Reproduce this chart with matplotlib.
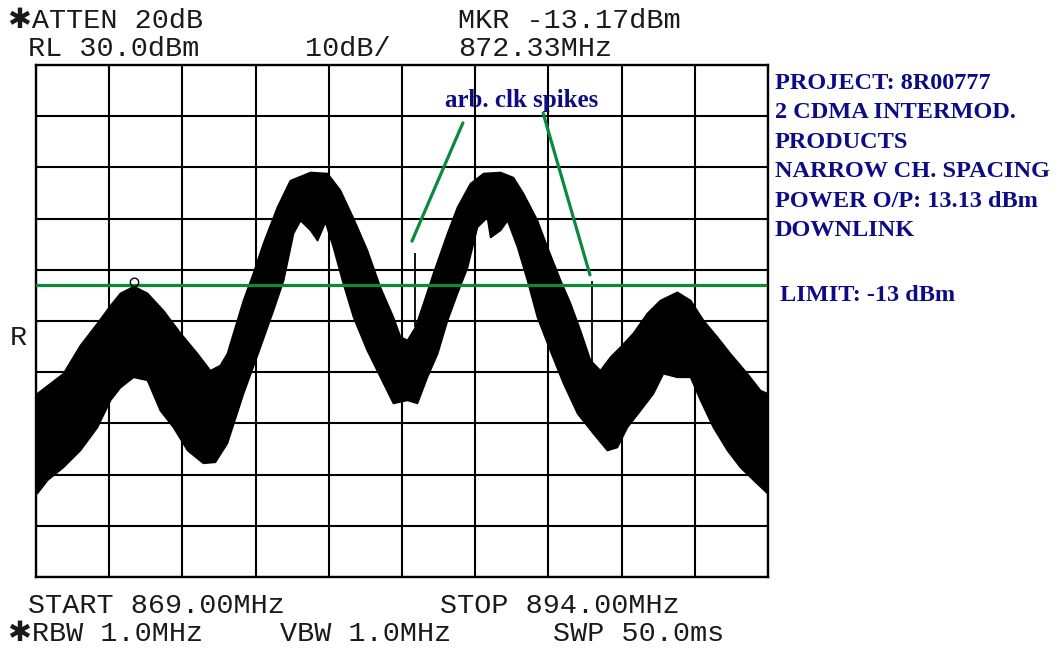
import matplotlib.pyplot as plt
import numpy as np
from matplotlib.path import Path

# trace envelope (MHz, dBm)
upper_freq = [869.03, 869.92, 870.50, 871.08, 871.53, 871.87, 872.33, 872.79, 873.34, 873.92,
              874.50, 874.94, 875.28, 875.52, 876.07, 876.41, 876.75, 877.23, 877.67, 878.36,
              878.94, 879.38, 879.83, 880.30, 880.75, 881.19, 881.43, 881.67, 881.94, 882.22,
              882.56, 883.04, 883.38, 883.82, 884.27, 884.85, 885.29, 885.63, 886.11, 886.45,
              886.90, 887.24, 887.58, 887.92, 888.26, 888.60, 888.95, 889.39, 889.87, 890.31,
              890.89, 891.34, 891.78, 892.26, 892.70, 893.28, 893.73, 893.97]
upper_dbm = [-34.1, -30.2, -24.7, -20.4, -16.9, -14.5, -13.17, -14.5, -17.9, -22.3,
             -26.3, -29.6, -28.6, -26.3, -15.9, -10.6, -4.8, 2.3, 7.5, 9.1,
             8.9, 5.6, 0.1, -6.1, -13.4, -19.2, -23.0, -23.7, -21.2, -16.5,
             -10.6, -2.8, 2.3, 6.9, 8.9, 9.1, 8.1, 5.0, -0.3, -5.5,
             -12.0, -16.5, -21.8, -27.6, -29.6, -27.0, -25.0, -22.3, -18.4, -15.9,
             -14.3, -15.9, -19.8, -23.1, -26.3, -30.2, -33.5, -34.1]

lower_freq = [869.03, 869.38, 869.92, 870.50, 871.08, 871.53, 871.87, 872.32, 872.79, 873.23,
              873.68, 874.16, 874.70, 875.11, 875.52, 876.07, 876.65, 877.09, 877.44, 877.78,
              878.02, 878.36, 878.60, 878.87, 879.14, 879.48, 879.83, 880.30, 880.75, 881.19,
              881.67, 882.01, 882.35, 882.70, 883.04, 883.38, 883.72, 884.06, 884.40, 884.51,
              884.85, 885.09, 885.43, 885.77, 886.11, 886.55, 887.00, 887.48, 888.02, 888.50,
              888.84, 889.18, 889.63, 890.07, 890.41, 890.89, 891.34, 891.68, 892.12, 892.60,
              893.04, 893.49, 893.97]
lower_dbm = [-53.6, -51.0, -48.5, -45.2, -40.7, -35.4, -32.9, -30.9, -31.5, -37.4,
             -40.7, -45.2, -47.7, -47.5, -43.8, -34.1, -25.0, -17.9, -12.0, -2.8,
             -0.3, -2.2, -4.2, -0.6, -5.5, -12.6, -19.2, -25.7, -30.9, -36.0,
             -35.4, -36.0, -30.9, -26.3, -19.8, -14.5, -9.5, -1.6, 0.3, -3.6,
             -2.2, -0.3, -5.5, -12.0, -19.2, -25.7, -32.1, -38.0, -41.9, -45.2,
             -44.6, -40.7, -37.4, -34.1, -30.2, -30.9, -30.9, -35.4, -40.7, -45.2,
             -48.5, -51.0, -53.6]

# arb. clock spikes
spike_freq = [881.94, 887.99]
spike_top = [-6.7, -12.2]

start_mhz, stop_mhz = 869.0, 894.0
ref_level, db_per_div = 30.0, 10.0
limit_dbm = -13.0
mkr_freq, mkr_dbm = 872.33, -13.17

navy = '#0c0c85'
green = '#0a8a3c'

fig = plt.figure(figsize=(10.58, 6.48), dpi=100)
W, H = 1058, 648
ax = fig.add_axes([36 / W, (H - 577) / H, 732 / W, 512 / H])
ax.set_xlim(start_mhz, stop_mhz)
ax.set_ylim(ref_level - 10 * db_per_div, ref_level)
ax.set_xticks(np.linspace(start_mhz, stop_mhz, 11))
ax.set_yticks(np.arange(ref_level - 10 * db_per_div, ref_level + 1, db_per_div))
ax.grid(True, color='black', linewidth=1.5)
ax.tick_params(length=0, labelbottom=False, labelleft=False)
for s in ax.spines.values():
    s.set_linewidth(1.7)

# envelope of the swept trace
grid_f = np.union1d(upper_freq, lower_freq)
hi = np.interp(grid_f, upper_freq, upper_dbm)
lo = np.interp(grid_f, lower_freq, lower_dbm)
ax.fill_between(grid_f, lo, hi, color='black', linewidth=1.2, edgecolor='black')
ax.vlines(spike_freq, np.interp(spike_freq, upper_freq, upper_dbm), spike_top,
          color='black', linewidth=1.3)

# marker circle sitting on the peak
circ = Path.unit_circle()
marker_path = Path(circ.vertices + [0, 1], circ.codes)
ax.plot([mkr_freq], [mkr_dbm], marker=marker_path, markersize=12,
        markerfacecolor='none', markeredgecolor='black', markeredgewidth=1.0, zorder=5)

# limit line
ax.plot([start_mhz, 893.9], [limit_dbm, limit_dbm], color=green, linewidth=2.3, zorder=4)

# annotation pointers
ax.plot([881.84, 883.58], [-4.4, 18.7], color=green, linewidth=2.3, solid_capstyle='round')
ax.plot([886.32, 887.92], [20.6, -11.0], color=green, linewidth=2.3, solid_capstyle='round')
ax.text(885.6, 21.8, 'arb. clk spikes', color=navy, fontsize=18, fontweight='bold',
        family='Liberation Serif', ha='center', va='baseline')

# instrument header / footer
mono = dict(family=['Liberation Mono', 'DejaVu Sans'], fontsize=20.5, color='#1a1a1a',
            va='baseline')
def px(x, y, s):
    fig.text(x / W, 1 - y / H, s, **mono)

px(8, 28, '\u2731ATTEN 20dB')
px(458, 28, 'MKR -13.17dBm')
px(28, 56, 'RL 30.0dBm')
px(305, 56, '10dB/')
px(458, 56, '872.33MHz')
px(28, 613, 'START 869.00MHz')
px(440, 613, 'STOP 894.00MHz')
px(8, 641, '\u2731RBW 1.0MHz')
px(280, 641, 'VBW 1.0MHz')
px(553, 641, 'SWP 50.0ms')
px(10, 345, 'R')

# test notes on the right
note_font = dict(color=navy, fontsize=17.5, fontweight='bold', family='Liberation Serif',
                 va='baseline')
notes = ['PROJECT: 8R00777', '2 CDMA INTERMOD.', 'PRODUCTS', 'NARROW CH. SPACING',
         'POWER O/P: 13.13 dBm', 'DOWNLINK']
for i, line in enumerate(notes):
    fig.text(775 / W, 1 - (89 + i * 29.5) / H, line, **note_font)
fig.text(780 / W, 1 - 301 / H, 'LIMIT: -13 dBm', **note_font)

fig.savefig('out.png', dpi=100)
